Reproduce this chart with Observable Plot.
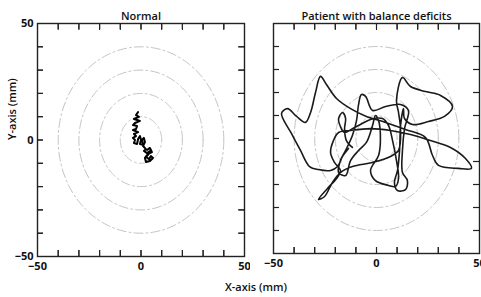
<!DOCTYPE html>
<html><head><meta charset="utf-8">
<script src="https://cdn.jsdelivr.net/npm/d3@7"></script>
<script src="https://cdn.jsdelivr.net/npm/@observablehq/plot@0.6"></script>
<style>
body{margin:0;background:#fff;}
#wrap{position:relative;width:481px;height:297px;overflow:hidden;font-family:"Open Sans",sans-serif;color:#111;}
.panel{position:absolute;top:0;}
#xlab{position:absolute;left:0;width:512px;top:279px;text-align:center;font-size:11px;font-weight:600;color:#111;}
</style></head><body><div id="wrap"><div id="xlab">X-axis (mm)</div><div class="panel" id="p0" style="left:0px"></div><div class="panel" id="p1" style="left:250px"></div></div>
<script>
const titles = ["Normal", "Patient with balance deficits"];
const xAxisLabel = "X-axis (mm)";
const yAxisLabel = "Y-axis (mm)";
const minorTicks = [-40, -30, -20, -10, 0, 10, 20, 30, 40];
const labeledTicks = [-50, 0, 50];
const ringRadii = [10, 20, 30, 40];

// Normal subject sway path (mm)
const normalX = [-1.4,-2.4,-1.0,-3.4,-1.9,-0.5,-2.9,-3.9,-1.9,-2.4,-3.9,-1.4,-3.4,-2.4,-3.9,-2.9,-3.4,-1.9,-1.4,-0.5,0,-0.5,1.0,0.5,1.4,1.9,1.0,2.4,1.4,2.9,4.3,3.4,2.4,3.9,4.8,5.8,4.3,2.4,1.9,3.4,5.3,4.3,2.9];
const normalY = [12.0,10.7,9.9,9.0,8.6,8.2,7.3,6.4,6.0,4.7,4.3,3.4,2.6,1.7,0.9,0,-1.3,-1.7,0.4,1.7,0,-1.7,-2.1,0,0.9,-0.9,-2.6,-3.9,-4.7,-5.6,-4.7,-6.4,-7.3,-8.2,-6.9,-7.7,-9.0,-9.4,-7.7,-6.0,-5.2,-3.4,-4.3];

// Patient sway path (mm)
const patientX = [-13.6,-16.5,-18.9,-22.3,-28.2,-32.5,-36.9,-41.3,-46.1,-43.2,-38.8,-34.5,-32.0,-29.6,-27.2,-24.3,-19.4,-12.6,-4.9,4.4,14.1,23.8,27.2,30.1,39.8,46.1,43.2,35.9,26.2,16.5,6.8,-2.9,-12.6,-18.4,-20.9,-22.3,-20.4,-17.5,-19.4,-23.8,-28.2,-25.2,-21.4,-17.5,-11.7,-1.9,6.8,10.7,11.7,10.7,9.7,12.6,16.5,23.8,31.1,36.9,33.0,25.2,17.5,13.6,13.1,11.7,11.2,10.2,8.7,10.2,14.1,15.0,12.6,12.6,13.6,15.5,11.7,4.4,-1.9,-5.3,-7.3,-8.7,-9.7,-11.7,-15.0,-17.5,-18.4,-15.0,-12.6,-8.7,-4.9,-1.9,-0.5,1.0,1.9,1.0,-2.9,-0.5,5.8,9.2,10.7,9.7,7.8,5.8,2.9,-2.9,-7.8,-11.7,-15.5,-17.5,-18.4,-16.5,-15.0,-15.5,-14.6,-11.7];
const patientY = [-4.3,-7.8,-12.2,-13.9,-13.5,-12.2,-5.2,2.2,10.9,13.0,9.6,7.0,11.3,20.0,27.0,23.5,17.4,13.0,9.6,7.0,3.9,0.4,-7.4,-11.7,-13.0,-13.0,-8.7,-3.9,-0.9,1.7,3.5,4.3,3.5,2.6,-0.9,-6.1,-10.4,-13.9,-17.4,-21.7,-26.5,-25.2,-19.1,-14.8,-12.2,-10.4,-7.8,-5.2,3.5,11.3,16.5,26.5,22.6,20.4,18.7,13.9,9.6,7.4,6.1,8.7,13.0,5.7,-5.2,-13.9,-19.1,-22.6,-22.2,-18.3,-14.8,-5.2,4.3,12.2,14.8,13.9,12.2,18.3,19.1,14.8,7.8,1.3,-5.2,-9.6,-14.8,-16.1,-9.6,-5.2,-1.7,5.7,10.0,7.8,-0.9,-7.4,-13.9,-18.3,-20.4,-20.9,-17.4,-9.6,-0.9,5.7,8.7,8.3,6.1,4.3,2.6,5.2,8.7,11.3,8.7,4.3,-0.9,-3.9];

const ringPts = ringRadii.flatMap(r => d3.range(0, 361, 2).map(a => ({r, x: r * Math.cos(a * Math.PI / 180), y: r * Math.sin(a * Math.PI / 180)})));
const noText = () => "";
const tickLenY = 2.6, tickLenX = 2.9; // inward tick length in mm (about 6 px)

function panel({id, title, xs, ys, width, marginLeft, marginRight, marginBottom, showY, strokeWidth, curve, stroke}) {
  const pts = xs.map((x, i) => ({x, y: ys[i]}));
  const tk = {stroke: "#222", strokeWidth: 1.2};
  const marks = [
    Plot.line(ringPts, {x: "x", y: "y", z: "r", stroke: "#c4c4c4", strokeWidth: 1, strokeDasharray: "9,3,2,3"}),
    Plot.line(pts, {x: "x", y: "y", stroke, strokeWidth, curve, strokeLinejoin: "round"}),
    Plot.frame({stroke: "#222", strokeWidth: 1.4}),
    Plot.axisX({anchor: "bottom", ticks: minorTicks, tickSize: 6, dy: -6, tickFormat: noText, label: null}),
    Plot.axisX({anchor: "top", ticks: minorTicks, tickSize: 6, dy: 6, tickFormat: noText, label: null}),
    Plot.axisY({anchor: "left", ticks: minorTicks, tickSize: 6, dx: 6, tickFormat: noText, label: null}),
    Plot.axisY({anchor: "right", ticks: minorTicks, tickSize: 6, dx: -6, tickFormat: noText, label: null}),
    Plot.ruleX(minorTicks, {x: d => d, y1: -50, y2: -50 + tickLenY, ...tk}),
    Plot.ruleX(minorTicks, {x: d => d, y1: 50, y2: 50 - tickLenY, ...tk}),
    Plot.ruleY(minorTicks, {y: d => d, x1: -50, x2: -50 + tickLenX, ...tk}),
    Plot.ruleY(minorTicks, {y: d => d, x1: 50, x2: 50 - tickLenX, ...tk}),
    Plot.axisX({anchor: "bottom", ticks: labeledTicks, tickSize: 0, tickPadding: 6, label: null, fontSize: 11, fontWeight: 700}),
    Plot.text([title], {frameAnchor: "top", dy: -11, fontSize: 11, fontWeight: 600})
  ];
  if (showY) {
    marks.push(Plot.axisY({anchor: "left", ticks: labeledTicks, tickSize: 0, tickPadding: 4, label: null, fontSize: 11, fontWeight: 700}));
    marks.push(Plot.text([yAxisLabel], {frameAnchor: "left", rotate: -90, dx: -25, fontSize: 11, fontWeight: 600}));
  }
  const svg = Plot.plot({
    width, height: 297, marginLeft, marginRight, marginTop: 23, marginBottom,
    style: {fontFamily: "'Open Sans', sans-serif", fontSize: "11px"},
    x: {domain: [-50, 50], label: null},
    y: {domain: [-50, 50], label: null},
    marks
  });
  document.getElementById(id).appendChild(svg);
}

panel({id: "p0", title: titles[0], xs: normalX, ys: normalY, width: 250, marginLeft: 37, marginRight: 6, marginBottom: 41, showY: true, strokeWidth: 2, curve: "linear", stroke: "#000"});
panel({id: "p1", title: titles[1], xs: patientX, ys: patientY, width: 231, marginLeft: 23, marginRight: 2, marginBottom: 44, showY: false, strokeWidth: 1.6, curve: "catmull-rom", stroke: "#1a1a1a"});
</script></body></html>
